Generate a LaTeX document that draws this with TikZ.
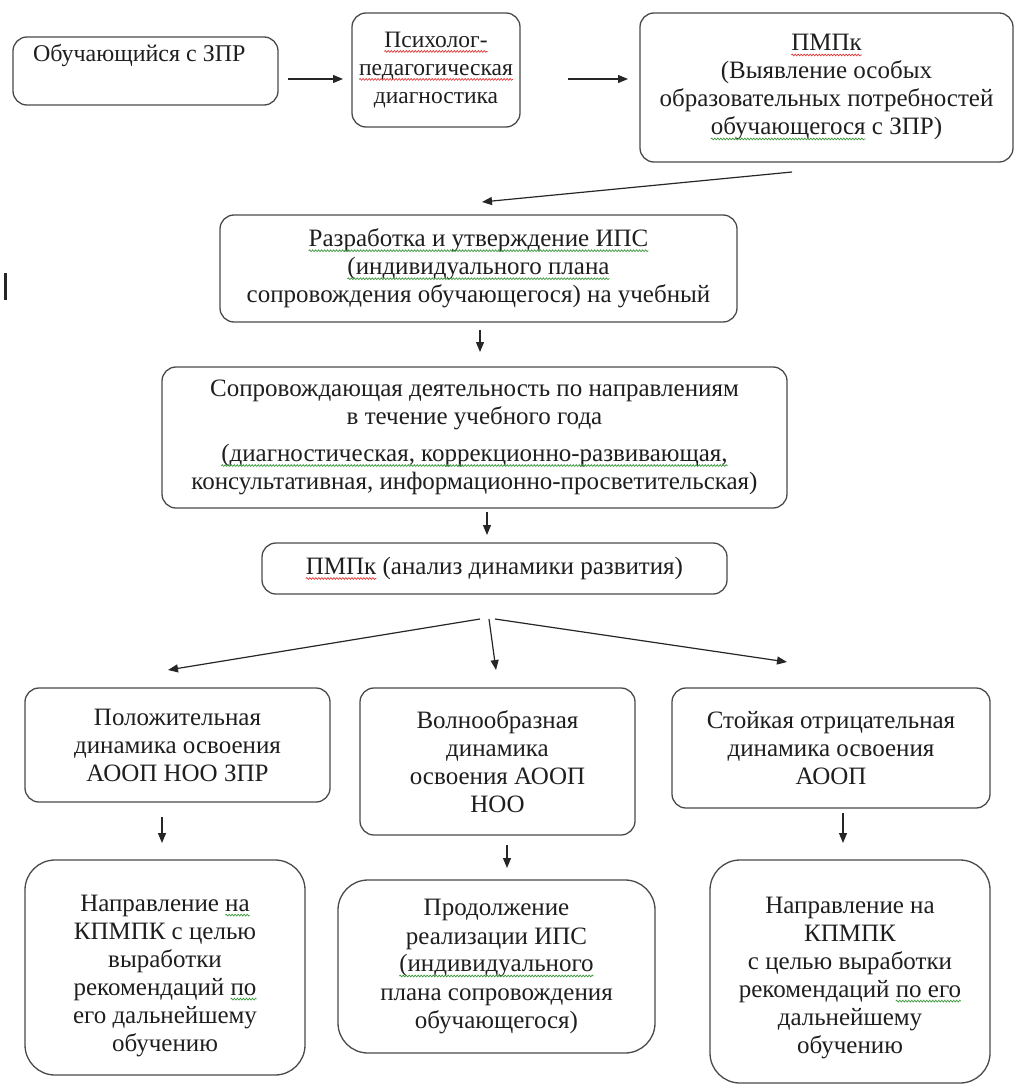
\documentclass[tikz,border=0pt]{standalone}
\usepackage{fontspec}
\setmainfont{Liberation Serif}
\usetikzlibrary{arrows.meta,calc,decorations.pathmorphing}
\definecolor{bordc}{HTML}{4A4A4A}
\definecolor{txtc}{HTML}{1E1E1E}
\definecolor{sqred}{HTML}{E03A3A}
\definecolor{sqgreen}{HTML}{3C9A3C}
\newcommand{\spl}[2]{\tikz[baseline=(w.base),sharp corners,x=1pt,y=1pt]{\node[inner sep=0pt,outer sep=0pt,minimum width=0pt,minimum height=0pt,draw=none,anchor=base,rounded corners=0pt](w){#2};\draw[overlay,sharp corners,#1,line width=0.7pt,decorate,decoration={snake,amplitude=0.9pt,segment length=3pt}]([yshift=-4pt]w.base west)--([yshift=-4pt]w.base east);}}
\newcommand{\sr}[1]{\spl{sqred}{#1}}
\newcommand{\sg}[1]{\spl{sqgreen}{#1}}
\tikzset{
  box/.style={draw=bordc, line width=1.3pt, rounded corners=14pt, inner sep=0pt, outer sep=0pt, align=center, text=txtc, font=\fontsize{25}{28}\selectfont},
  bigbox/.style={box, rounded corners=30pt},
  plaintext/.style={inner sep=0pt, outer sep=0pt, text=txtc, font=\fontsize{24}{28}\selectfont},
  arr/.style={-{Triangle[length=10pt,width=8pt]}, line width=1.2pt, black!85}
}
\begin{document}
\begin{tikzpicture}[x=1pt,y=-1pt]
\useasboundingbox (0,0) rectangle (1016,1086);
% text cursor mark
\fill[black!85] (3.5,273) rectangle (6.5,300);

\node[box, minimum width=265pt, minimum height=68pt] (n1) at (145.5,71) {};
\node[plaintext, anchor=west] (n1t) at (33,56) {Обучающийся с ЗПР};

\node[box, minimum width=168pt, minimum height=114pt, font=\fontsize{23.5}{28}\selectfont] (n2) at (436,70)
  {\sr{Психолог-}\\\sr{педагогическая}\\диагностика};

\node[box, minimum width=373pt, minimum height=149pt] (n3) at (826.5,87.5)
  {\sr{ПМПк}\\(Выявление особых\\образовательных потребностей\\\sg{обучающегося} с ЗПР)};

\node[box, minimum width=517pt, minimum height=107pt] (n4) at (478.5,268.5)
  {\sg{Разработка и утверждение ИПС}\\\sg{(индивидуального плана}\\сопровождения обучающегося) на учебный};

\node[box, minimum width=625pt, minimum height=141pt] (n5) at (474.5,437.5)
  {Сопровождающая деятельность по направлениям\\в течение учебного года\\[9pt]\sg{(диагностическая, коррекционно-развивающая,}\\консультативная, информационно-просветительская)};

\node[box, minimum width=465pt, minimum height=51pt] (n6) at (494.5,568.5)
  {\sr{ПМПк} (анализ динамики развития)};

\node[box, minimum width=305pt, minimum height=114pt] (n7) at (177.5,745)
  {Положительная\\динамика освоения\\АООП НОО ЗПР};

\node[box, minimum width=275pt, minimum height=147pt] (n8) at (497.5,761.5)
  {Волнообразная\\динамика\\освоения АООП\\НОО};

\node[box, minimum width=318pt, minimum height=120pt] (n9) at (831,748)
  {Стойкая отрицательная\\динамика освоения\\АООП};

\node[bigbox, minimum width=280pt, minimum height=215pt] (n10) at (165,967.5)
  {\raisebox{-8pt}[\height][\depth]{\begin{tabular}{@{}c@{}}Направление \sg{на}\\КПМПК с целью\\выработки\\рекомендаций \sg{по}\\его дальнейшему\\обучению\end{tabular}}};

\node[bigbox, minimum width=317pt, minimum height=173pt] (n11) at (496.5,966.5)
  {Продолжение\\реализации ИПС\\\sg{(индивидуального}\\плана сопровождения\\обучающегося)};

\node[bigbox, minimum width=280pt, minimum height=223pt] (n12) at (850,971.5)
  {\raisebox{-6pt}[\height][\depth]{\begin{tabular}{@{}c@{}}Направление на\\КПМПК\\с целью выработки\\рекомендаций \sg{по его}\\дальнейшему\\обучению\end{tabular}}};

% connectors
\draw[arr] ($(n1.east)+(10,8)$) -- ($(n2.west)+(-9,9)$);
\draw[arr] ($(n2.east)+(48,9)$) -- ($(n3.west)+(-12,-8.5)$);
\draw[arr] ($(n3.south)+(-34.5,10)$) -- ($(n4.north)+(3.5,-13)$);
\draw[arr] ($(n4.south)+(1.5,8)$) -- ($(n5.north)+(5.5,-15)$);
\draw[arr] ($(n5.south)+(12.5,4)$) -- ($(n6.north)+(-7.5,-8)$);
\draw[arr] ($(n6.south)+(-14.5,25)$) -- ($(n7.north)+(-9.5,-18)$);
\draw[arr] ($(n6.south)+(-5.5,25)$) -- ($(n8.north)+(-1.5,-18)$);
\draw[arr] ($(n6.south)+(0.5,25)$) -- ($(n9.north)+(-44,-26)$);
\draw[arr] ($(n7.south)+(-15.5,15)$) -- ($(n10.north)+(-3,-17)$);
\draw[arr] ($(n8.south)+(9.5,10)$) -- ($(n11.north)+(10.5,-12)$);
\draw[arr] ($(n9.south)+(12,5)$) -- ($(n12.north)+(-7,-17)$);
\end{tikzpicture}
\end{document}
